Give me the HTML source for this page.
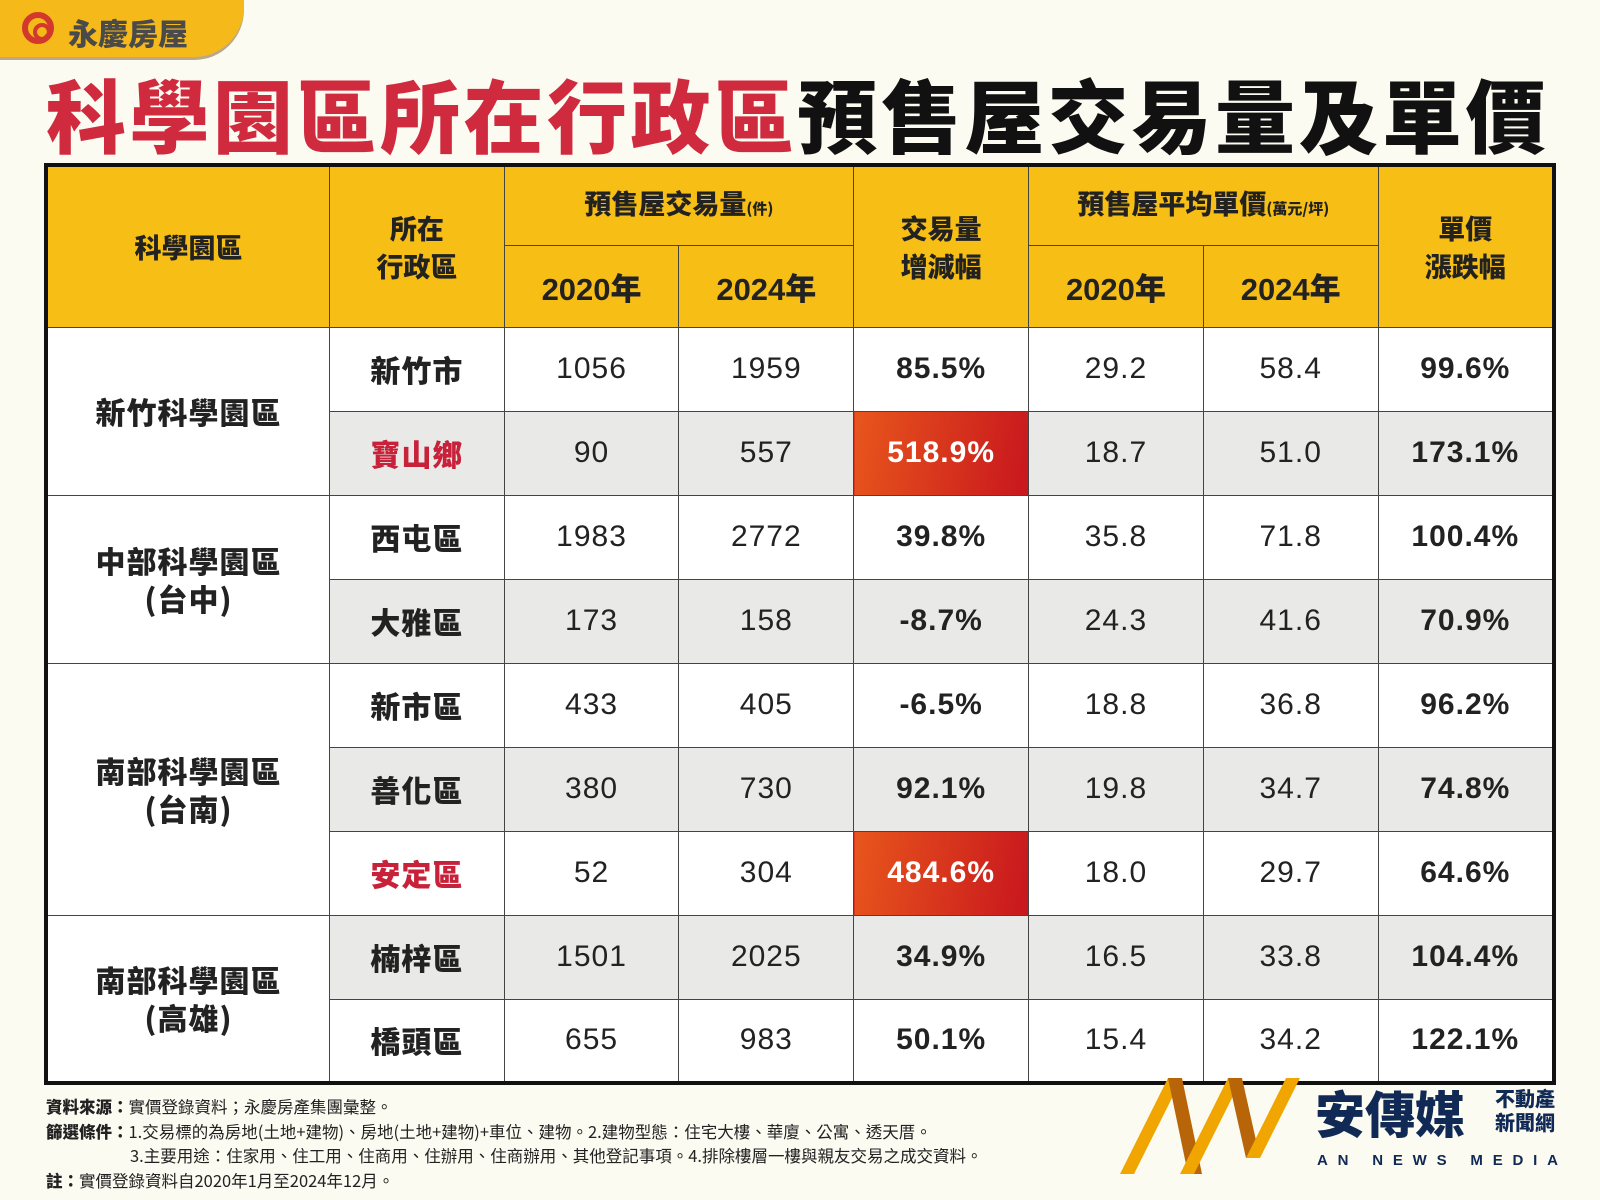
<!DOCTYPE html>
<html><head><meta charset="utf-8">
<style>
*{margin:0;padding:0;box-sizing:border-box}
body{width:1600px;height:1200px;background:#fcfbf1;position:relative;overflow:hidden;font-family:"Liberation Sans","Noto Sans CJK TC",sans-serif}
.tab{position:absolute;left:0;top:0;width:244px;height:57px;background:#f5b919;border-bottom-right-radius:50px;box-shadow:0 3px 0 #b9a98a}
.tab .ic{position:absolute;left:22px;top:12px;width:32px;height:32px;border:6px solid #d2382c;border-radius:50%}
.tab .ic:after{content:"";position:absolute;left:5px;top:5px;width:10px;height:10px;border:4px solid #d2382c;border-radius:50%}
.tab span{position:absolute;left:68px;top:10px;font-size:30px;font-weight:900;color:#4a4a4a;font-family:"Noto Sans CJK TC",sans-serif}
.title{position:absolute;left:46px;top:68px;font-size:80px;font-weight:900;letter-spacing:3.5px;font-family:"Noto Sans CJK TC",sans-serif;white-space:nowrap;line-height:90px}
.title .r{color:#d02a3f}.title .k{color:#111}
table{position:absolute;left:44px;top:163px;width:1512px;border-collapse:collapse;border:4px solid #111;font-family:"Liberation Sans","Noto Sans CJK TC",sans-serif}
td,th{border:1.5px solid #444;text-align:center;color:#222}
th{background:#f7be16;font-weight:900;font-family:"Noto Sans CJK TC",sans-serif;color:#222}
th.h1{font-size:27px;line-height:38px}
th.y{font-size:31px;font-family:"Liberation Sans","Noto Sans CJK TC",sans-serif;height:82px}
th small{font-size:15px}
tr.d td{height:84px;font-size:30px;letter-spacing:1px}
td.g{font-size:27px;font-weight:900;font-family:"Noto Sans CJK TC",sans-serif;line-height:38px;background:#fff!important}
td.dist{font-size:27px;font-weight:900;font-family:"Noto Sans CJK TC",sans-serif}
td.b{font-weight:bold}
.red{color:#c8213a!important}
tr.w td{background:#fff}
tr.gr td{background:#e9e9e8}
td.hot{background:linear-gradient(100deg,#e8561c,#c8161e)!important;color:#fff!important;font-weight:bold}
.notes{position:absolute;left:46px;top:1094px;font-size:16.5px;color:#222;line-height:24.5px;font-family:"Noto Sans CJK TC",sans-serif;white-space:nowrap}
.notes b{font-weight:900}
.logo{position:absolute;left:1120px;top:1078px;width:470px;height:100px;white-space:nowrap}
.an{position:absolute;left:195px;top:6px;font-size:50px;font-weight:900;color:#102a55;font-family:"Noto Sans CJK TC",sans-serif;line-height:56px;white-space:nowrap}
.an2{position:absolute;left:375px;top:8px;font-size:20px;font-weight:900;color:#102a55;line-height:24px;font-family:"Noto Sans CJK TC",sans-serif;white-space:nowrap}
.an3{position:absolute;left:197px;top:74px;font-size:15px;letter-spacing:9.8px;color:#102a55;font-weight:bold;white-space:nowrap}
</style></head><body>
<div class="tab"><div class="ic"></div><span>永慶房屋</span></div>
<div class="title"><span class="r">科學園區所在行政區</span><span class="k">預售屋交易量及單價</span></div>
<table>
<colgroup><col style="width:284px"><col style="width:175px"><col style="width:175px"><col style="width:175px"><col style="width:175px"><col style="width:175px"><col style="width:175px"><col style="width:176px"></colgroup>
<tr><th rowspan="2" class="h1">科學園區</th><th rowspan="2" class="h1">所在<br>行政區</th><th colspan="2" class="h1" style="height:80px">預售屋交易量<small>(件)</small></th><th rowspan="2" class="h1">交易量<br>增減幅</th><th colspan="2" class="h1">預售屋平均單價<small>(萬元/坪)</small></th><th rowspan="2" class="h1">單價<br>漲跌幅</th></tr>
<tr><th class="y">2020年</th><th class="y">2024年</th><th class="y">2020年</th><th class="y">2024年</th></tr>
<tr class="d w"><td rowspan="2" class="g">新竹科學園區</td><td class="dist">新竹市</td><td>1056</td><td>1959</td><td class="b">85.5%</td><td>29.2</td><td>58.4</td><td class="b">99.6%</td></tr>
<tr class="d gr"><td class="dist red">寶山鄉</td><td>90</td><td>557</td><td class="hot">518.9%</td><td>18.7</td><td>51.0</td><td class="b">173.1%</td></tr>
<tr class="d w"><td rowspan="2" class="g">中部科學園區<br>(台中)</td><td class="dist">西屯區</td><td>1983</td><td>2772</td><td class="b">39.8%</td><td>35.8</td><td>71.8</td><td class="b">100.4%</td></tr>
<tr class="d gr"><td class="dist">大雅區</td><td>173</td><td>158</td><td class="b">-8.7%</td><td>24.3</td><td>41.6</td><td class="b">70.9%</td></tr>
<tr class="d w"><td rowspan="3" class="g">南部科學園區<br>(台南)</td><td class="dist">新市區</td><td>433</td><td>405</td><td class="b">-6.5%</td><td>18.8</td><td>36.8</td><td class="b">96.2%</td></tr>
<tr class="d gr"><td class="dist">善化區</td><td>380</td><td>730</td><td class="b">92.1%</td><td>19.8</td><td>34.7</td><td class="b">74.8%</td></tr>
<tr class="d w"><td class="dist red">安定區</td><td>52</td><td>304</td><td class="hot">484.6%</td><td>18.0</td><td>29.7</td><td class="b">64.6%</td></tr>
<tr class="d gr"><td rowspan="2" class="g">南部科學園區<br>(高雄)</td><td class="dist">楠梓區</td><td>1501</td><td>2025</td><td class="b">34.9%</td><td>16.5</td><td>33.8</td><td class="b">104.4%</td></tr>
<tr class="d w"><td class="dist">橋頭區</td><td>655</td><td>983</td><td class="b">50.1%</td><td>15.4</td><td>34.2</td><td class="b">122.1%</td></tr>
</table>
<div class="notes">
<div><b>資料來源：</b>實價登錄資料；永慶房產集團彙整。</div>
<div><b>篩選條件：</b>1.交易標的為房地(土地+建物)、房地(土地+建物)+車位、建物。2.建物型態：住宅大樓、華廈、公寓、透天厝。</div>
<div style="padding-left:84px">3.主要用途：住家用、住工用、住商用、住辦用、住商辦用、其他登記事項。4.排除樓層一樓與親友交易之成交資料。</div>
<div><b>註：</b>實價登錄資料自2020年1月至2024年12月。</div>
</div>
<div class="logo">
<svg width="190" height="100" style="position:absolute;left:0;top:0">
<polygon points="0,96 14,96 62,0 48,0" fill="#f0a500"/>
<polygon points="48,0 62,0 82,96 68,96" fill="#b8650a"/>
<polygon points="60,96 74,96 122,0 108,0" fill="#f0a500"/>
<polygon points="108,0 122,0 140,80 126,80" fill="#b8650a"/>
<polygon points="126,80 140,80 180,0 166,0" fill="#f0a500"/>
</svg>
<div class="an">安傳媒</div><div class="an2">不動產<br>新聞網</div><div class="an3">AN NEWS MEDIA</div>
</div>
</body></html>
